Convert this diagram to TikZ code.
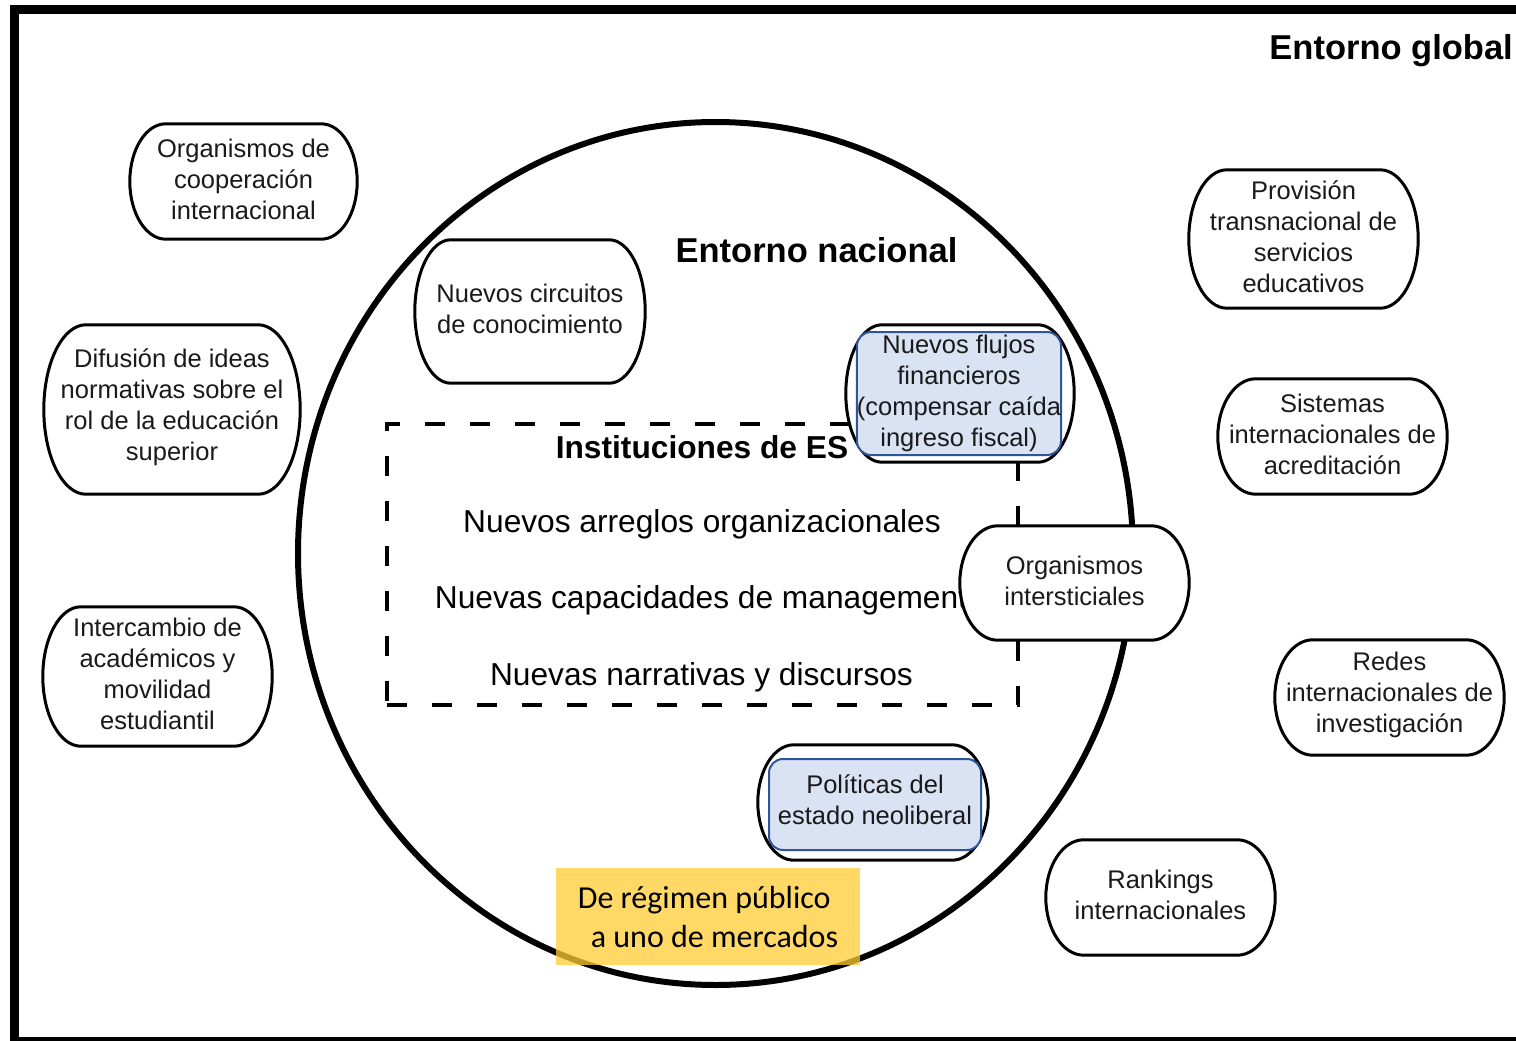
\documentclass[tikz,border=0pt]{standalone}
\usepackage{fontspec}
\setmainfont{Liberation Sans}
\newfontfamily\carlito{Carlito}
\usetikzlibrary{calc,shapes.geometric}
\definecolor{bluefill}{HTML}{DAE3F3}
\definecolor{blueline}{HTML}{2F5597}
\definecolor{yellowfill}{HTML}{FFCC33}
\definecolor{txtgray}{HTML}{1A1A1A}

\newcommand\stadoutline[2]{%
 \draw[stadline] let \p1=(#1.north west), \p2=(#1.south east), \n1={0.5*(\y1-\y2)}, \n2={#2pt} in
  (\x1+\n2,\y1) -- (\x2-\n2,\y1)
  .. controls (\x2-0.4477*\n2,\y1) and (\x2,\y2+1.5523*\n1) .. (\x2,\y2+\n1)
  .. controls (\x2,\y2+0.4477*\n1) and (\x2-0.4477*\n2,\y2) .. (\x2-\n2,\y2)
  -- (\x1+\n2,\y2)
  .. controls (\x1+0.4477*\n2,\y2) and (\x1,\y2+0.4477*\n1) .. (\x1,\y2+\n1)
  .. controls (\x1,\y2+1.5523*\n1) and (\x1+0.4477*\n2,\y1) .. cycle;}

% name, x, y, w, h, ellipse radius, text
\newcommand\stadnode[7]{%
  \node[stadbox, minimum width=#4pt, minimum height=#5pt] (#1) at (#2,#3) {};
  \stadoutline{#1}{#6}
  \node[nodetext] (#1-t) at ([yshift=2.5pt]#1.center) {#7};
}

\tikzset{
  stadbox/.style={shape=rectangle, inner sep=0pt},
  stadline/.style={draw=black, line width=3pt, fill=white},
  nodetext/.style={align=center, inner sep=0pt, text=txtgray,
    font=\fontsize{25.5}{31}\selectfont},
  bluebox/.style={draw=blueline, fill=bluefill, line width=2pt, rounded corners=14pt,
    align=center, inner sep=0pt, text=txtgray, font=\fontsize{25.5}{31}\selectfont},
  heading/.style={font=\bfseries\fontsize{34.5}{40}\selectfont, inner sep=0pt},
  bigtext/.style={font=\fontsize{31.7}{38}\selectfont, inner sep=0pt},
}

\begin{document}
\begin{tikzpicture}[x=1pt,y=-1pt]
\clip (0,0) rectangle (1516,1041);
\fill[white] (0,0) rectangle (1516,1041);
% outer frame
\draw[line width=9pt] (14,10) -- (1530,10) -- (1530,1041) -- (14,1041) -- cycle;

\node[heading, anchor=east] (global) at (1513,51) {Entorno global};

% national circle
\node[draw, ellipse, line width=6pt, minimum width=835pt, minimum height=863pt, inner sep=0pt] (nacional) at (715.5,553.5) {};
\node[heading] (nacionaltxt) at (816.5,250) {Entorno nacional};

% institutions dashed box
\node[draw, line width=4pt, dash pattern=on 20pt off 25pt, minimum width=631pt, minimum height=281pt, inner sep=0pt] (ies) at (702.5,564.5) {};
\node[bigtext, font=\bfseries\fontsize{31.7}{38}\selectfont] (iestxt) at (702,447) {Instituciones de ES};
\node[bigtext] (arreglos) at (702,524) {Nuevos arreglos organizacionales};
\node[bigtext] (capacidades) at (701,600) {Nuevas capacidades de management};
\node[bigtext] (narrativas) at (701.5,677) {Nuevas narrativas y discursos};

% nodes
\stadnode{coop}{243.5}{181.5}{227}{115}{36}{Organismos de\\cooperación\\internacional}
\stadnode{difus}{172}{409.5}{256}{169}{42}{Difusión de ideas\\normativas sobre el\\rol de la educación\\superior}
\stadnode{inter}{157.5}{676.5}{229}{139}{38}{Intercambio de\\académicos y\\movilidad\\estudiantil}
\stadnode{circ}{530}{311.5}{230}{143}{36}{Nuevos circuitos\\de conocimiento}
\stadnode{orgint}{1074.5}{583}{229}{114}{38}{Organismos\\intersticiales}
\stadnode{prov}{1303.5}{239}{229}{138}{38}{Provisión\\transnacional de\\servicios\\educativos}
\stadnode{sist}{1332.5}{436.5}{229}{115}{38}{Sistemas\\internacionales de\\acreditación}
\stadnode{redes}{1389.5}{697.5}{229}{115}{38}{Redes\\internacionales de\\investigación}
\stadnode{rank}{1160.5}{897.5}{229}{115}{38}{Rankings\\internacionales}

% highlighted nodes
\node[stadbox, minimum width=228pt, minimum height=137pt] (flujosouter) at (960,393.5) {};
\stadoutline{flujosouter}{36}
\node[bluebox, minimum width=202pt, minimum height=123pt] (flujos) at (959,393.5) {Nuevos flujos\\financieros\\(compensar caída\\ingreso fiscal)};

\node[stadbox, minimum width=230pt, minimum height=115pt] (politouter) at (873,802.5) {};
\stadoutline{politouter}{36}
\node[bluebox, minimum width=212pt, minimum height=91pt] (polit) at (875,804.5) {};
\node[nodetext] (polit-t) at (875,799.5) {Políticas del\\estado neoliberal};

% yellow note
\node[fill=yellowfill, fill opacity=0.75, text opacity=1, minimum width=304pt, minimum height=97pt,
  inner sep=0pt, align=left,
  font=\carlito\fontsize{32}{39}\selectfont] (mercado) at (708,916.5)
  {De régimen público\\\hspace*{13pt}a uno de mercados};
\end{tikzpicture}
\end{document}
